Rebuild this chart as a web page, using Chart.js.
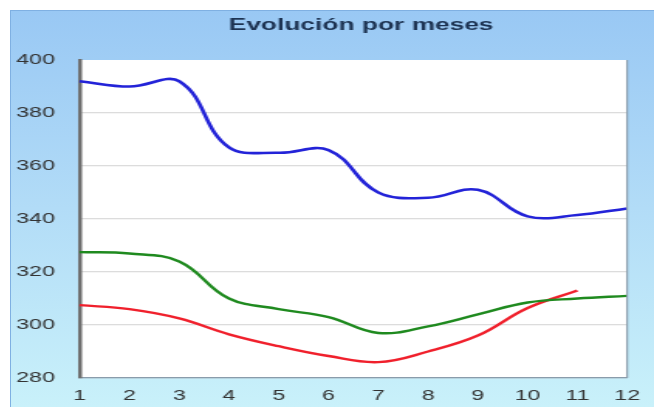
<!DOCTYPE html>
<html>
<head>
<meta charset="utf-8">
<script src="https://cdn.jsdelivr.net/npm/chart.js@4/dist/chart.umd.min.js"></script>
<style>
    html, body { margin: 0; padding: 0; background: #ffffff; }
    #wrap {
        position: absolute;
        left: 10px;
        top: 10px;
        width: 644px;
        height: 397px;
        background: linear-gradient(to bottom, #99c8f4 0%, #b2dcf7 50%, #c9f1fa 100%);
        box-shadow: inset 1px 1px 0 #7fb0e2;
    }
    #chart {
        position: absolute;
        left: 0;
        top: 0;
    }
</style>
</head>
<body>
<div id="wrap">
    <canvas id="chart" width="416" height="397" style="width:644px;height:397px"></canvas>
</div>
<script>
// Meses y valores
const months = ['1', '2', '3', '4', '5', '6', '7', '8', '9', '10', '11', '12'];
const blueSeries = [392, 390, 392, 367, 365, 366, 350, 348, 351, 341, 341.5, 344];
const greenSeries = [327.5, 327, 324, 310, 306, 303, 297, 299.5, 304, 308.5, 310, 311];
const redSeries = [307.5, 306, 302.5, 296.5, 292, 288.3, 286, 290, 296, 306.4, 313];
const yTicks = [280, 300, 320, 340, 360, 380, 400];

const chartTitle = 'Evolución por meses';

// fondo blanco del área de trazado, borde derecho y título
const plotDecor = {
    id: 'plotDecor',
    beforeDraw(chart) {
        const { ctx, chartArea: a } = chart;
        ctx.save();
        ctx.fillStyle = '#ffffff';
        ctx.fillRect(a.left, a.top, a.right - a.left, a.bottom - a.top);
        ctx.restore();
    },
    afterDraw(chart) {
        const { ctx, chartArea: a } = chart;
        ctx.save();
        ctx.strokeStyle = '#8a9cab';
        ctx.lineWidth = 1.2;
        ctx.beginPath();
        ctx.moveTo(a.right, a.top);
        ctx.lineTo(a.right, a.bottom);
        ctx.stroke();

        ctx.fillStyle = '#1d3352';
        ctx.font = 'bold 17px "Liberation Sans", Arial, sans-serif';
        ctx.textAlign = 'center';
        ctx.textBaseline = 'middle';
        ctx.fillText(chartTitle, (a.left + a.right) / 2 + 5, 15);
        ctx.restore();
    }
};

new Chart(document.getElementById('chart'), {
    type: 'line',
    data: {
        labels: months,
        datasets: [{
            data: blueSeries,
            borderColor: '#2323d8',
            borderWidth: 2.6,
            tension: 0.4,
            pointRadius: 0
        }, {
            data: greenSeries,
            borderColor: '#1f8a1f',
            borderWidth: 2.4,
            tension: 0.4,
            pointRadius: 0
        }, {
            data: redSeries,
            borderColor: '#f0202c',
            borderWidth: 2.4,
            tension: 0.4,
            pointRadius: 0
        }]
    },
    options: {
        responsive: false,
        devicePixelRatio: 1,
        animation: false,
        layout: {
            padding: { top: 50, right: 11, left: 0, bottom: 0 }
        },
        plugins: {
            legend: { display: false },
            title: { display: false },
            tooltip: { enabled: false }
        },
        scales: {
            x: {
                offset: false,
                grid: { display: false, drawTicks: false },
                border: { color: '#8a9cab', width: 1.2 },
                ticks: {
                    color: '#333333',
                    padding: 9,
                    maxRotation: 0,
                    autoSkip: false,
                    font: { family: '"Liberation Sans", Arial, sans-serif', size: 15 }
                },
                afterFit(scale) { scale.height = 29; }
            },
            y: {
                min: 280,
                max: 400,
                afterBuildTicks(scale) {
                    scale.ticks = yTicks.map(v => ({ value: v }));
                },
                grid: {
                    drawTicks: false,
                    color: ctx => (ctx.tick && ctx.tick.value === 400) ? 'rgba(0,0,0,0)' : '#b9b9b9',
                    lineWidth: 1.3
                },
                border: { color: '#6f6f6f', width: 2.5, dash: [1, 1] },
                ticks: {
                    color: '#333333',
                    padding: 16,
                    font: { family: '"Liberation Sans", Arial, sans-serif', size: 15 }
                },
                afterFit(scale) { scale.width = 45; }
            }
        }
    },
    plugins: [plotDecor]
});
</script>
</body>
</html>
